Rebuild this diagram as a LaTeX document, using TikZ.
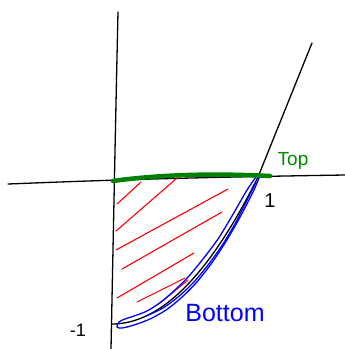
\documentclass[tikz,border=0pt]{standalone}
\usepackage{fontspec}
\setsansfont{Liberation Sans}
\begin{document}
\begin{tikzpicture}[x=1pt,y=-1pt,
  ink/.style={line width=1.3pt,line cap=round,line join=round},
  axisline/.style={ink,black},
  hatch/.style={line width=1.1pt,red,line cap=round},
  blueink/.style={line width=1.3pt,blue,line cap=round,line join=round},
  lbl/.style={inner sep=0pt,font=\sffamily}]
\useasboundingbox (0,0) rectangle (345,349);
% axes
\draw[axisline] (118,12) .. controls (116,100) and (114,200) .. (111,349);
\draw[axisline] (8,184) .. controls (60,182) and (150,178) .. (345,175);
% diagonal line
\draw[axisline] (312,43) -- (258,177);
% black curve
\draw[axisline] plot[domain=0:1,samples=40,smooth] ({112+146*\x},{324-147*\x*\x});
% red hatching
\draw[hatch] (117,204) -- (141,182);
\draw[hatch] (116,231) -- (177,178);
\draw[hatch] (116,250) -- (228,189);
\draw[hatch] (122,269) -- (222,212);
\draw[hatch] (117,298) -- (194,253);
\draw[hatch] (137,302) -- (185,278);
\draw[hatch] (160,303) -- (188,280);
% blue tracing
\draw[blueink] plot[smooth,tension=0.5] coordinates {(259,178) (253,192) (239,219) (225,243) (211,264) (196,283) (181,298) (166,310) (150,319) (134,325) (122,328) (117,327) (119,322) (125,319) (134,316) (147,311) (161,302) (175,290) (189,276) (203,259) (218,239) (232,216) (247,190) (256,177)};
\draw[blueink] plot[smooth,tension=0.5] coordinates {(256,182) (237,220) (223,244) (208,265) (193,283) (178,297) (163,308) (146,316)};
% green top
\draw[green!50!black,line width=4.5pt,line cap=round] (113,181) .. controls (170,173) and (230,174) .. (270,176);
% labels
\node[lbl,text=green!55!black,font=\sffamily\fontsize{19}{19}\selectfont] (top) at (293,161) {Top};
\node[lbl,font=\sffamily\fontsize{20}{20}\selectfont] (one) at (270,201) {1};
\node[lbl,font=\sffamily\fontsize{18}{18}\selectfont] (mone) at (78,330) {-1};
\node[lbl,text=blue,font=\sffamily\fontsize{25}{25}\selectfont] (bottom) at (225,313) {Bottom};
\end{tikzpicture}
\end{document}
